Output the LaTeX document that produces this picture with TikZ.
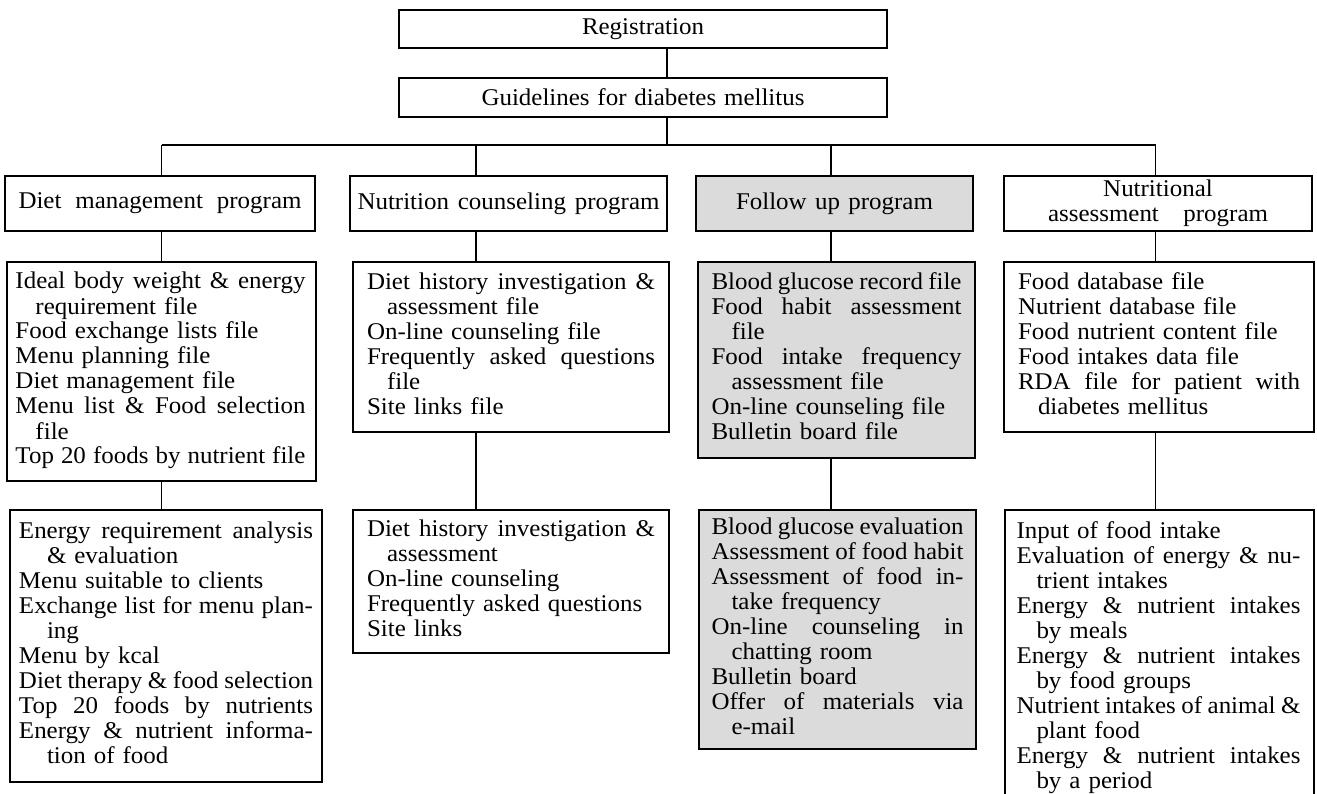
\documentclass[tikz,border=0pt]{standalone}
\usepackage{fontspec}
\setmainfont[FakeStretch=1.04]{Liberation Serif}
\setlength{\parindent}{0pt}
\newcommand\hind{\hspace*{20pt}}
\newcommand\hindd{\hspace*{28pt}}
\newcommand\wbox[2]{{\spaceskip=0pt\relax\xspaceskip=0pt\relax\makebox[#1][s]{#2}}}
\tikzset{
  base/.style={draw=black, line width=1.2pt, rectangle, inner sep=0pt,
    font=\fontsize{24}{25}\selectfont},
  prog/.style={base, align=center},
  lst/.style={base, align=left, text width=#1,
    execute at begin node=\strut,
    execute at end node=\strut},
  shade/.style={fill=black!14},
  conn/.style={line width=1.2pt},
}
\begin{document}
\begin{tikzpicture}[x=1pt,y=-1pt]
\path[use as bounding box] (0,0) rectangle (1317,794);
\clip (0,0) rectangle (1317,794);

% top boxes
\node[prog, minimum width=488pt, minimum height=38pt] (reg) at (643,29) {Registration};
\node[prog, minimum width=488pt, minimum height=39pt] (gd) at (643,97.5) {\wbox{323pt}{Guidelines for diabetes mellitus}};

% program boxes
\node[prog, minimum width=310pt, minimum height=55pt] (dm) at (160,203.5) {\wbox{283pt}{Diet management program}};
\node[prog, minimum width=317pt, minimum height=55pt] (nc) at (508.5,203.5) {\wbox{302pt}{Nutrition counseling program}};
\node[prog, shade, minimum width=277pt, minimum height=55pt] (fu) at (834.5,203.5) {\wbox{197pt}{Follow up program}};
\node[prog, minimum width=308pt, minimum height=55pt] (na) at (1158,203.5) {Nutritional\\\wbox{220pt}{assessment program}};

% file boxes
\node[lst=292pt, minimum width=309pt, minimum height=219pt] (dmf) at (161.5,371.5) {%
\wbox{290pt}{Ideal body weight \& energy}\\
\hind requirement file\\
Food exchange lists file\\
Menu planning file\\
Diet management file\\
\wbox{290pt}{Menu list \& Food selection}\\
\hind file\\
\wbox{290pt}{Top 20 foods by nutrient file}};

\node[lst=288pt, minimum width=316pt, minimum height=170pt] (ncf) at (511,347) {%
\wbox{288pt}{Diet history investigation \&}\\
\hind assessment file\\
On-line counseling file\\
\wbox{288pt}{Frequently asked questions}\\
\hind file\\
Site links file};

\node[lst=250pt, shade, minimum width=277pt, minimum height=196pt] (fuf) at (836.5,360) {%
\wbox{250pt}{Blood glucose record file}\\
\wbox{250pt}{Food habit assessment}\\
\hind file\\
\wbox{250pt}{Food intake frequency}\\
\hind assessment file\\
On-line counseling file\\
Bulletin board file};

\node[lst=282pt, minimum width=310pt, minimum height=170pt] (naf) at (1159,347) {%
Food database file\\
Nutrient database file\\
Food nutrient content file\\
Food intakes data file\\
\wbox{282pt}{RDA file for patient with}\\
\hind diabetes mellitus};

% bottom boxes
\node[lst=294pt, minimum width=312pt, minimum height=272pt] (dmb) at (166,646) {%
\wbox{294pt}{Energy requirement analysis}\\
\hindd \& evaluation\\
Menu suitable to clients\\
\wbox{294pt}{Exchange list for menu plan-}\\
\hindd ing\\
Menu by kcal\\
\wbox{294pt}{Diet therapy \& food selection}\\
\wbox{294pt}{Top 20 foods by nutrients}\\
\wbox{294pt}{Energy \& nutrient informa-}\\
\hindd tion of food};

\node[lst=288pt, minimum width=316pt, minimum height=143pt] (ncb) at (511,581.5) {%
\wbox{288pt}{Diet history investigation \&}\\
\hind assessment\\
On-line counseling\\
Frequently asked questions\\
Site links};

\node[lst=252pt, shade, minimum width=277pt, minimum height=239pt] (fub) at (837.5,629.5) {%
\wbox{252pt}{Blood glucose evaluation}\\
\wbox{252pt}{Assessment of food habit}\\
\wbox{252pt}{Assessment of food in-}\\
\hind take frequency\\
\wbox{252pt}{On-line counseling in}\\
\hind chatting room\\
Bulletin board\\
\wbox{252pt}{Offer of materials via}\\
\hind e-mail};

\node[lst=286pt, minimum width=309pt, minimum height=296pt] (nab) at (1159.5,658) {%
Input of food intake\\
\wbox{284pt}{Evaluation of energy \& nu-}\\
\hind trient intakes\\
\wbox{284pt}{Energy \& nutrient intakes}\\
\hind by meals\\
\wbox{284pt}{Energy \& nutrient intakes}\\
\hind by food groups\\
\wbox{284pt}{Nutrient intakes of animal \&}\\
\hind plant food\\
\wbox{284pt}{Energy \& nutrient intakes}\\
\hind by a period};

% junctions
\coordinate (j0) at (667,145);
\coordinate (j1) at (161.5,145);
\coordinate (j2) at (476,145);
\coordinate (j3) at (831,145);
\coordinate (j4) at (1155.5,145);

% connectors
\draw[conn] (reg.south -| j0) -- (gd.north -| j0);
\draw[conn] (gd.south -| j0) -- (j0);
\draw[conn] (j1) -- (j4);
\draw[conn] (j1) -- (dm.north -| j1);
\draw[conn] (j2) -- (nc.north -| j2);
\draw[conn] (j3) -- (fu.north -| j3);
\draw[conn] (j4) -- (na.north -| j4);
\draw[conn] (dm.south -| j1) -- (dmf.north -| j1);
\draw[conn] (dmf.south -| j1) -- (dmb.north -| j1);
\draw[conn] (nc.south -| j2) -- (ncf.north -| j2);
\draw[conn] (ncf.south -| j2) -- (ncb.north -| j2);
\draw[conn] (fu.south -| j3) -- (fuf.north -| j3);
\draw[conn] (fuf.south -| j3) -- (fub.north -| j3);
\draw[conn] (na.south -| j4) -- (naf.north -| j4);
\draw[conn] (naf.south -| j4) -- (nab.north -| j4);
\end{tikzpicture}
\end{document}
